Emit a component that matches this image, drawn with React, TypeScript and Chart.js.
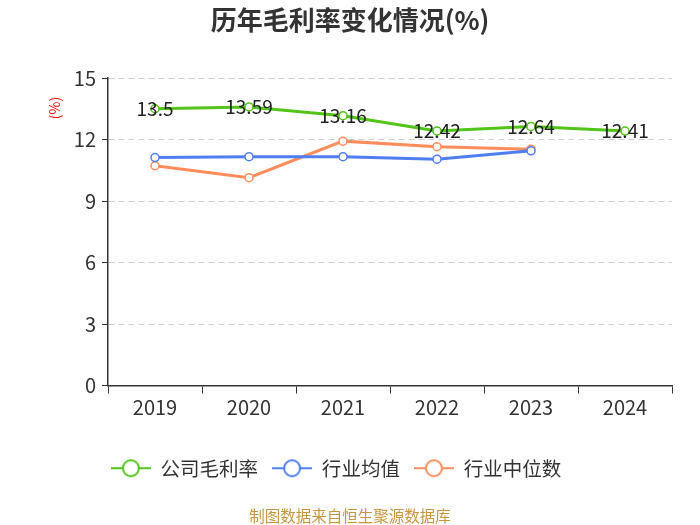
import { useRef, useEffect } from "react"
import { Chart, registerables, type Plugin } from "chart.js"

Chart.register(...registerables)

const years = ["2019", "2020", "2021", "2022", "2023", "2024"]
const companyMargin = [13.5, 13.59, 13.16, 12.42, 12.64, 12.41]
const industryAvg = [11.12, 11.16, 11.16, 11.04, 11.45, null]
const industryMedian = [10.72, 10.14, 11.92, 11.65, 11.53, null]
const yTicks = [0, 3, 6, 9, 12, 15]

const GREEN = "#52c41a"
const BLUE = "#4f7ef0"
const ORANGE = "#ff8d5c"
const FONT = "'Noto Sans CJK SC', 'Noto Sans', sans-serif"

// legend icon: line with a hollow circle in the middle
function legendIcon(color: string) {
  const c = document.createElement("canvas")
  c.width = 40
  c.height = 20
  const ctx = c.getContext("2d")!
  ctx.strokeStyle = color
  ctx.lineWidth = 2
  ctx.beginPath()
  ctx.moveTo(0, 10)
  ctx.lineTo(40, 10)
  ctx.stroke()
  ctx.beginPath()
  ctx.arc(20, 10, 8, 0, Math.PI * 2)
  ctx.fillStyle = "#fff"
  ctx.fill()
  ctx.stroke()
  return c
}

const extras: Plugin<"line"> = {
  id: "extras",
  afterDatasetsDraw(chart) {
    const ctx = chart.ctx
    ctx.save()
    ctx.textAlign = "center"
    ctx.textBaseline = "middle"
    // title, centred on the whole picture
    ctx.font = `bold 26px ${FONT}`
    ctx.fillStyle = "#333"
    ctx.fillText("历年毛利率变化情况(%)", 350, 20)
    // value labels for the company series
    const meta = chart.getDatasetMeta(0)
    ctx.font = `19px ${FONT}`
    ctx.fillStyle = "#222"
    meta.data.forEach((pt, i) => {
      ctx.fillText(String(companyMargin[i]), pt.x, pt.y)
    })
    // source note
    ctx.font = `15.5px ${FONT}`
    ctx.fillStyle = "#c8963e"
    ctx.fillText("制图数据来自恒生聚源数据库", 350, 516)
    // unit label
    ctx.translate(55, 108)
    ctx.rotate(-Math.PI / 2)
    ctx.font = `14px ${FONT}`
    ctx.fillStyle = "#ff0000"
    ctx.fillText("(%)", 0, 0)
    ctx.restore()
  },
}

export default function App() {
  const canvasRef = useRef<HTMLCanvasElement>(null)

  useEffect(() => {
    if (!canvasRef.current) return
    const icons = [legendIcon(GREEN), legendIcon(BLUE), legendIcon(ORANGE)]
    const series = (label: string, data: (number | null)[], color: string) => ({
      label,
      data,
      borderColor: color,
      backgroundColor: color,
      borderWidth: 3,
      pointRadius: 4,
      pointBorderWidth: 1.5,
      pointBackgroundColor: "#fff",
      pointBorderColor: color,
      tension: 0,
    })

    const chart = new Chart(canvasRef.current, {
      type: "line",
      data: {
        labels: years,
        datasets: [
          series("公司毛利率", companyMargin, GREEN),
          series("行业均值", industryAvg, BLUE),
          series("行业中位数", industryMedian, ORANGE),
        ],
      },
      options: {
        responsive: true,
        maintainAspectRatio: false,
        animation: false,
        layout: { padding: { left: 0, right: 28, top: 78, bottom: 37 } },
        plugins: {
          title: { display: false },
          legend: {
            position: "bottom",
            labels: {
              usePointStyle: true,
              pointStyleWidth: 40,
              color: "#333",
              font: { family: FONT, size: 19.5 },
              padding: 14,
              generateLabels(ch) {
                const items = Chart.defaults.plugins.legend.labels.generateLabels(ch)
                return items.map((it, i) => ({ ...it, pointStyle: icons[i] }))
              },
            },
          },
          tooltip: { enabled: false },
        },
        scales: {
          x: {
            offset: true,
            grid: { drawOnChartArea: false, offset: true, tickLength: 8, color: "#333" },
            border: { color: "#333", width: 1.5 },
            ticks: { color: "#333", font: { family: FONT, size: 20 }, padding: 2 },
            afterFit(scale) {
              scale.height += 23
            },
          },
          y: {
            min: 0,
            max: 15,
            afterBuildTicks(scale) {
              scale.ticks = yTicks.map((v) => ({ value: v }))
            },
            afterFit(scale) {
              scale.width = 108
            },
            grid: { color: "#cfcfcf", tickLength: 6, tickColor: "#333", lineWidth: 1 },
            border: { color: "#333", width: 1.5, dash: [6, 4] },
            ticks: { color: "#333", font: { family: FONT, size: 20 }, padding: 6 },
          },
        },
      },
      plugins: [extras],
    })

    return () => {
      chart.destroy()
    }
  }, [])

  return (
    <div style={{ position: "fixed", left: 0, top: 0, width: 700, height: 525, background: "#fff" }}>
      <canvas ref={canvasRef}></canvas>
    </div>
  )
}
